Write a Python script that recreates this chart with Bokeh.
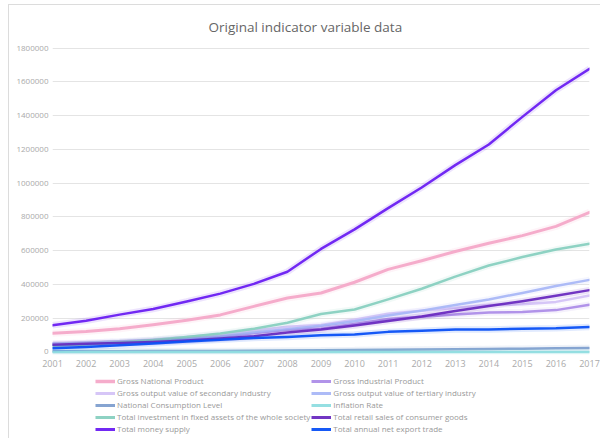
from bokeh.plotting import figure
from bokeh.models import Range1d, FixedTicker, Legend, LegendItem, Title
from bokeh.layouts import column
from bokeh.embed import file_html
from bokeh.resources import INLINE

years = list(range(2001, 2018))

gross_national_product = [110863, 121717, 137422, 161840, 187319, 219438, 270232, 319516, 349081,
                          413030, 489301, 540367, 595244, 643974, 689052, 743585, 827122]
gross_industrial_product = [43581, 47431, 54946, 65210, 77231, 91311, 111693, 131728, 138096,
                            165126, 195142, 208906, 222338, 233856, 236506, 247878, 279997]
secondary_industry = [49660, 54100, 62700, 74290, 88080, 104360, 126630, 149950, 160170,
                      191630, 227040, 244640, 261960, 277570, 282040, 296550, 334620]
tertiary_industry = [48880, 55120, 61760, 69160, 79930, 93620, 115090, 134510, 154760,
                     182060, 216120, 244850, 277980, 310650, 349750, 390830, 427030]
consumption_level = [3987, 4301, 4606, 5138, 5771, 6416, 7572, 8707, 9514,
                     10919, 13134, 14699, 16190, 17778, 19397, 21285, 22902]
inflation_rate = [100.7, 99.2, 101.2, 103.9, 101.8, 101.5, 104.8, 105.9, 99.3,
                  103.3, 105.4, 102.6, 102.6, 102.0, 101.4, 102.0, 101.6]
fixed_assets = [37213, 43500, 55567, 70477, 88774, 109998, 137324, 172828, 224599,
                251684, 311485, 374695, 446294, 512021, 561999, 606466, 641238]
retail_sales = [43055, 48136, 52516, 59501, 68353, 79145, 93572, 114830, 132678,
                156998, 183919, 210307, 242843, 271896, 300931, 332316, 366262]
money_supply = [158302, 185007, 221223, 254107, 298756, 345578, 403442, 475167, 610225,
                725852, 851591, 974149, 1106525, 1228375, 1392278, 1550067, 1676769]
net_export_trade = [22000, 30000, 40000, 50000, 62000, 73000, 82000, 89000, 99000,
                    103000, 119000, 125000, 133000, 133000, 137000, 140000, 148000]

y_ticks = [0, 200000, 400000, 600000, 800000, 1000000, 1200000, 1400000, 1600000, 1800000]

series = [
    ("Gross National Product", gross_national_product, "#f4a8c8", 3.0),
    ("Gross Industrial Product", gross_industrial_product, "#ad8de8", 2.5),
    ("Gross output value of secondary industry", secondary_industry, "#d4c3f7", 2.5),
    ("Gross output value of tertiary industry", tertiary_industry, "#a9b7f7", 2.5),
    ("National Consumption Level", consumption_level, "#7f9fcf", 2.5),
    ("Inflation Rate", inflation_rate, "#8fdde0", 2.5),
    ("Total investment in fixed assets of the whole society", fixed_assets, "#88d0c0", 2.5),
    ("Total retail sales of consumer goods", retail_sales, "#6a2bc0", 2.5),
    ("Total money supply", money_supply, "#6a1ef2", 2.5),
    ("Total annual net export trade", net_export_trade, "#0a50f5", 2.5),
]

FONT = "Open Sans"

p = figure(width=591, height=368, output_backend="svg", toolbar_location=None,
           x_range=Range1d(2001, 2017), y_range=Range1d(-15000, 1815000),
           min_border_left=43, min_border_right=12, min_border_top=40, min_border_bottom=20,
           frame_width=536, frame_height=308, title=None)
p.styles = {"margin-left": "8px", "margin-top": "4px",
            "border-left": "1px solid #dcdcdc", "border-top": "1px solid #dcdcdc"}
p.outline_line_color = None
p.background_fill_color = "white"
p.border_fill_color = "white"

t = Title(text="Original indicator variable data", align="left", text_font=FONT,
          text_font_size="13.5px", text_font_style="normal", text_color="#666666", offset=156,
          standoff=19)
p.add_layout(t, "above")

p.xgrid.grid_line_color = None
p.ygrid.grid_line_color = "#e4e4e4"
p.ygrid.ticker = FixedTicker(ticks=y_ticks)

p.yaxis.ticker = FixedTicker(ticks=y_ticks)
p.yaxis.axis_line_color = None
p.yaxis.major_tick_line_color = None
p.yaxis.minor_tick_line_color = None
p.yaxis.major_tick_out = 0
p.yaxis.major_tick_in = 0
p.yaxis.major_label_text_font = FONT
p.yaxis.major_label_text_font_size = "8px"
p.yaxis.major_label_text_color = "#aaaaaa"
p.yaxis.major_label_standoff = 4
p.yaxis.formatter.use_scientific = False

p.xaxis.ticker = FixedTicker(ticks=years)
p.xaxis.axis_line_color = None
p.xaxis.major_tick_line_color = None
p.xaxis.minor_tick_line_color = None
p.xaxis.major_tick_out = 0
p.xaxis.major_tick_in = 0
p.xaxis.major_label_text_font = FONT
p.xaxis.major_label_text_font_size = "9px"
p.xaxis.major_label_text_color = "#aaaaaa"
p.xaxis.major_label_standoff = 5

for name, vals, color, w in series:
    p.line(years, vals, line_color=color, line_width=w + 4, line_alpha=0.12)
    p.line(years, vals, line_color=color, line_width=w, line_alpha=0.95,
           line_join="round", line_cap="round")

# legend panel (separate figure below the chart, same borders so frames align)
pl = figure(width=591, height=65, output_backend="svg", toolbar_location=None,
            x_range=Range1d(0, 1), y_range=Range1d(0, 1),
            min_border_left=43, min_border_right=12, min_border_top=0, min_border_bottom=1,
            frame_width=536, frame_height=64, title=None)
pl.styles = {"margin-left": "8px", "border-left": "1px solid #dcdcdc"}
pl.axis.visible = False
pl.grid.grid_line_color = None
pl.outline_line_color = None
pl.border_fill_color = "white"
pl.background_fill_color = "white"

# the same series, outside this panel's ranges: only their legend samples show
leg_renderers = {}
for name, vals, color, w in series:
    leg_renderers[name] = pl.line(years, vals, line_color=color, line_width=w + 0.5,
                                  line_alpha=0.95)

names = [s[0] for s in series]
ordered = names[0::2] + names[1::2]
items = [LegendItem(label=n, renderers=[leg_renderers[n]]) for n in ordered]

legend = Legend(items=items, location=(43, 3), orientation="vertical", ncols=2,
                border_line_color=None, background_fill_alpha=0, padding=0, margin=0,
                label_text_font=FONT, label_text_font_size="8px", label_text_color="#999999",
                glyph_width=20, glyph_height=8, label_height=8, spacing=1, label_standoff=2)
pl.add_layout(legend, "center")

layout = column(p, pl, spacing=0)
open("out.html", "w").write(file_html(layout, INLINE))
